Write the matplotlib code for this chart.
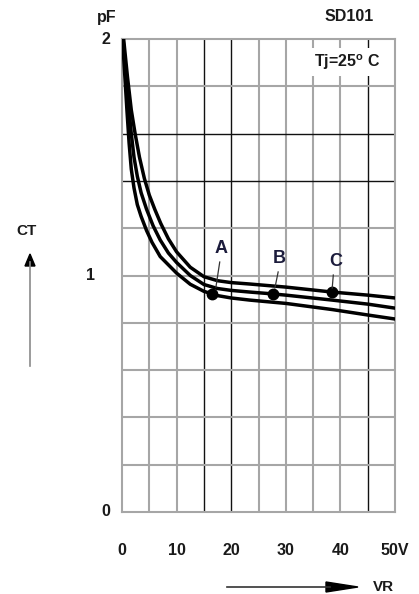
import matplotlib.pyplot as plt
from matplotlib.patches import Polygon
from matplotlib.lines import Line2D

plt.rcParams['font.family'] = ['Liberation Sans', 'DejaVu Sans']
plt.rcParams['font.weight'] = 'bold'
plt.rcParams['mathtext.fontset'] = 'custom'
plt.rcParams['mathtext.rm'] = 'Liberation Sans:bold'
plt.rcParams['mathtext.bf'] = 'Liberation Sans:bold'

# -------------------------------------------------
# Datos (VR [V], CT [pF])
# -------------------------------------------------

vr_a = [0.1, 0.5, 0.9, 1.3, 1.7, 2.2, 2.8, 3.5, 4.5, 5.5, 7, 8.5, 10, 12.5, 15, 17.5, 20, 23.4, 30, 38.5, 45, 50]
ct_a = [2.0, 1.85, 1.7, 1.56, 1.45, 1.37, 1.3, 1.25, 1.19, 1.14, 1.08, 1.045, 1.01, 0.963, 0.933, 0.915, 0.905, 0.896, 0.882, 0.856, 0.833, 0.816]

vr_b = [0.2, 0.7, 1.2, 1.7, 2.2, 2.8, 3.5, 4.5, 5.7, 7, 8.5, 10, 12.5, 15, 17.5, 20, 23.4, 27.7, 30, 38.5, 45, 50]
ct_b = [2.0, 1.85, 1.72, 1.6, 1.5, 1.42, 1.35, 1.28, 1.21, 1.15, 1.095, 1.055, 1.0, 0.962, 0.945, 0.937, 0.93, 0.922, 0.917, 0.896, 0.879, 0.862]

vr_c = [0.3, 1.0, 1.7, 2.4, 3.2, 4.1, 5.0, 6.0, 7.1, 8.5, 10, 12.5, 15, 17.5, 20, 23.4, 30, 38.5, 45, 50]
ct_c = [2.0, 1.84, 1.7, 1.6, 1.5, 1.41, 1.34, 1.28, 1.22, 1.155, 1.1, 1.035, 0.995, 0.978, 0.97, 0.964, 0.951, 0.93, 0.917, 0.905]

# puntos marcados A, B, C
mark_names = ['A', 'B', 'C']
mark_vr = [16.5, 27.7, 38.5]
mark_ct = [0.921, 0.922, 0.93]

xtick_vals = [0, 10, 20, 30, 40, 50]
xtick_labels = ['0', '10', '20', '30', '40', '50V']
ytick_vals = [0, 1, 2]
ytick_labels = ['0', '1', '2']

# grilla: lineas oscuras y claras
vgrid_dark = [15, 20, 45]
vgrid_light = [5, 10, 25, 30, 35, 40]
hgrid_dark = [1.4, 1.6]
hgrid_light = [0.2, 0.4, 0.6, 0.8, 1.0, 1.2, 1.8]

# -------------------------------------------------
# Plot
# -------------------------------------------------

W, H = 419, 594
fig = plt.figure(figsize=(W/100, H/100), dpi=100)
ax = fig.add_axes([122/W, 82/H, 273/W, 473/H])

txt_col = '#1a1a1a'
gray = '#a6a6a6'

for v in vgrid_light:
    ax.axvline(v, color=gray, lw=1.5, zorder=1)
for v in vgrid_dark:
    ax.axvline(v, color='#111111', lw=1.0, zorder=1)
for c in hgrid_light:
    ax.axhline(c, color=gray, lw=1.5, zorder=1)
for c in hgrid_dark:
    ax.axhline(c, color='#111111', lw=1.0, zorder=1)

for s in ax.spines.values():
    s.set_color(gray)
    s.set_linewidth(1.5)

for vr, ct in [(vr_a, ct_a), (vr_b, ct_b), (vr_c, ct_c)]:
    ax.plot(vr, ct, color='black', lw=2.5, solid_joinstyle='round', zorder=3)

ax.plot(mark_vr, mark_ct, 'o', color='black', ms=7.5, zorder=4)

# etiquetas A, B, C con linea guia (posiciones en coordenadas de datos)
label_pos = [(18.1, 1.078), (28.8, 1.036), (39.2, 1.023)]
leader = [((17.9, 1.057), (17.2, 0.951)),
          ((28.6, 1.015), (28.0, 0.947)),
          ((38.7, 1.002), (38.5, 0.947))]
for name, (tx, ty), (p0, p1) in zip(mark_names, label_pos, leader):
    ax.text(tx, ty, name, ha='center', va='bottom', fontsize=13,
            color='#1c1c3c', zorder=5)
    ax.plot([p0[0], p1[0]], [p0[1], p1[1]], color='#333333', lw=0.9, zorder=5)

ax.set_xlim(0, 50)
ax.set_ylim(0, 2)
ax.set_xticks(xtick_vals)
ax.set_xticklabels(xtick_labels, fontsize=11.5, color=txt_col)
ax.tick_params(axis='x', length=0, pad=22)
ax.set_yticks([])

# etiquetas del eje y
ylab_x = [-0.044, -0.099, -0.044]
for val, lab, xx in zip(ytick_vals, ytick_labels, ylab_x):
    ax.text(xx, val, lab, transform=ax.get_yaxis_transform(), ha='right', va='center',
            fontsize=11.5, color=txt_col)

ax.text(-0.055, 1.046, 'pF', transform=ax.transAxes, ha='center', va='center',
        fontsize=11.5, color=txt_col)
ax.text(0.832, 1.047, 'SD101', transform=ax.transAxes, ha='center', va='center',
        fontsize=11.5, color=txt_col)
ax.text(0.826, 0.951, r'Tj=25$^{\mathbf{o}}$ C', transform=ax.transAxes, ha='center', va='center',
        fontsize=11.5, color=txt_col, zorder=6,
        bbox=dict(boxstyle='square,pad=0.25', fc='white', ec='none'))

# flechas de los ejes
fig.text(26/W, 1 - 231/H, 'CT', ha='center', va='center', fontsize=11, color=txt_col)
fig.add_artist(Line2D([30/W, 30/W], [1 - 366/H, 1 - 262/H], color='#8a8a8a', lw=1.2))
fig.add_artist(Polygon([[25/W, 1 - 266/H], [35/W, 1 - 266/H], [30/W, 1 - 254/H]],
                       closed=True, color='black'))

fig.text(383/W, 1 - 587/H, 'VR', ha='center', va='center', fontsize=11, color=txt_col)
fig.add_artist(Line2D([227/W, 330/W], [1 - 587/H, 1 - 587/H], color='#333333', lw=1.2))
fig.add_artist(Polygon([[326/W, 1 - 582/H], [326/W, 1 - 592/H], [358/W, 1 - 587/H]],
                       closed=True, color='black'))

fig.savefig('out.png', dpi=100)
